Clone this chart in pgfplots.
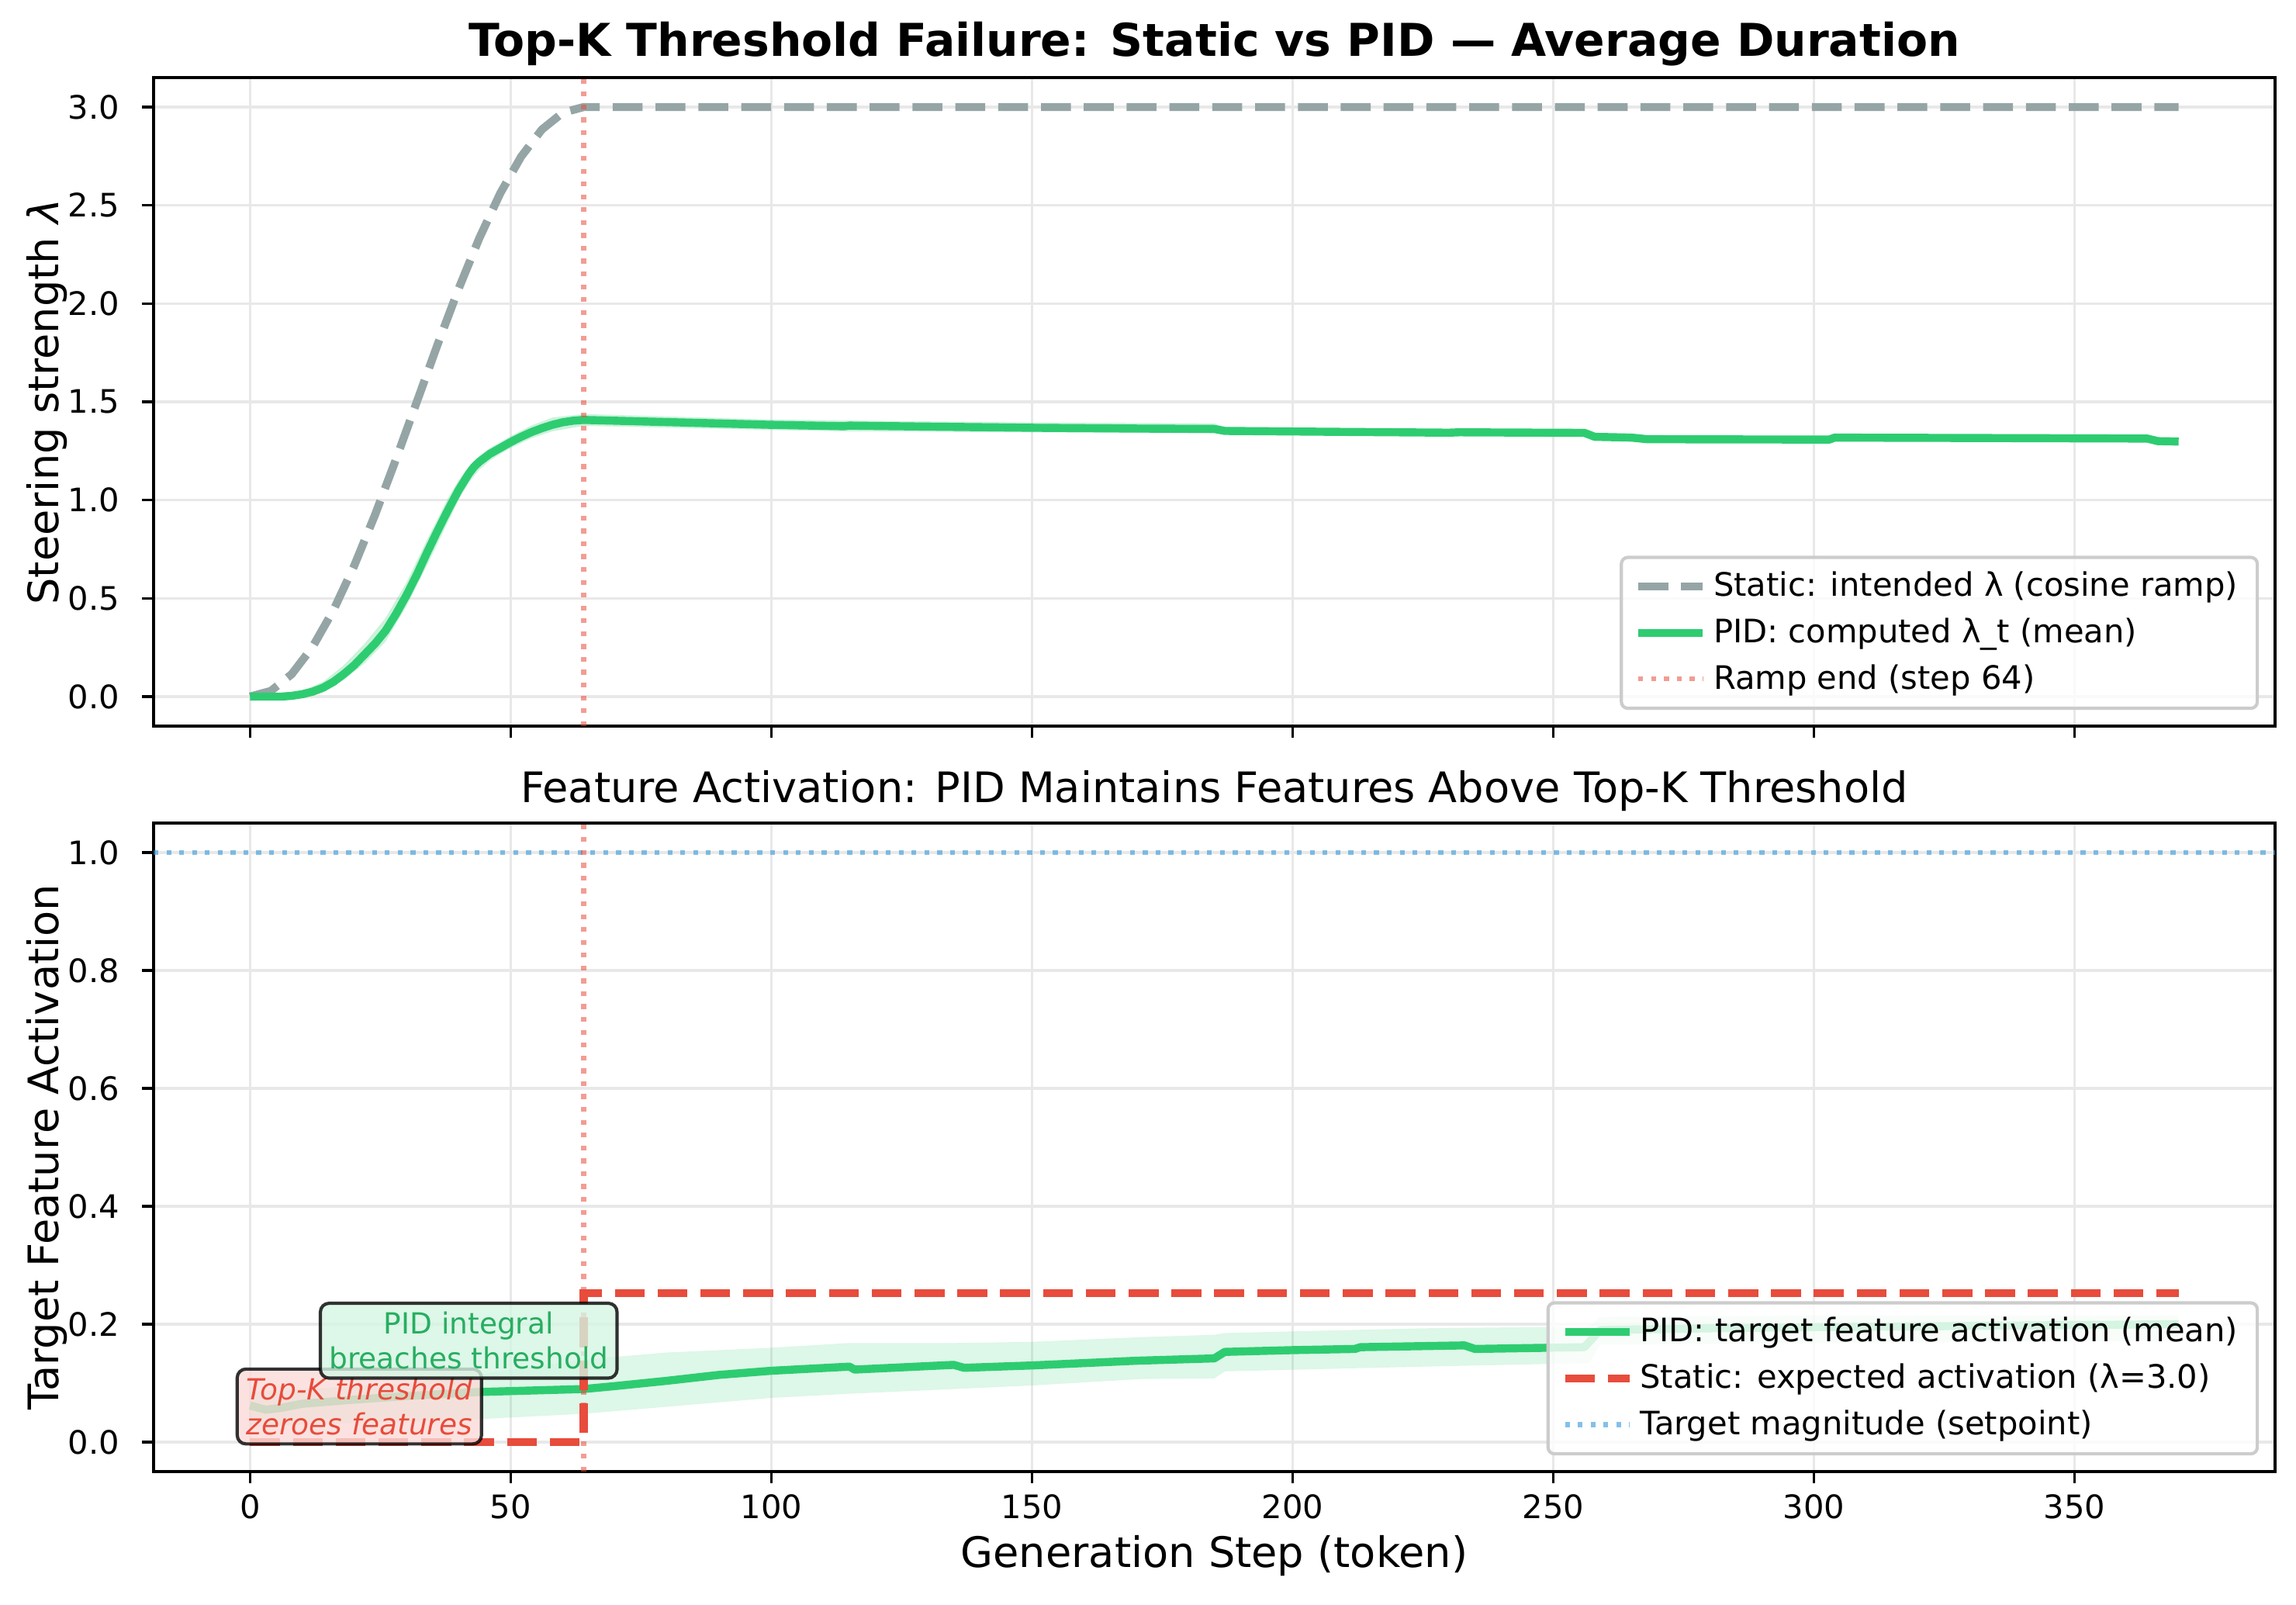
\documentclass[border=0pt]{standalone}
\usepackage{fontspec}
\setmainfont{DejaVu Sans}
\usepackage{pgfplots}
\pgfplotsset{compat=1.18}
\usepackage{pgfplotstable}

\definecolor{cgray}{HTML}{95A5A6}
\definecolor{cgreen}{HTML}{2ECC71}
\definecolor{cdkgreen}{HTML}{27AE60}
\definecolor{cred}{HTML}{E74C3C}
\definecolor{cblue}{HTML}{3498DB}
\definecolor{gridc}{HTML}{E8E8E8}
\definecolor{legc}{HTML}{CCCCCC}
\definecolor{pinkbox}{HTML}{FADBD8}
\definecolor{greenbox}{HTML}{D5F5E3}

% ---------- data ----------
\pgfplotstableread{
t lam
0 0.0000
4 0.0288
8 0.1142
12 0.2528
16 0.4393
20 0.6666
24 0.9260
28 1.2074
32 1.5000
36 1.7926
40 2.0740
44 2.3334
48 2.5607
52 2.7472
56 2.8858
60 2.9712
64 3.0000
370 3.0000
}\staticlam

\pgfplotstableread{
t lam
0 0.000
6 0.000
8 0.004
10 0.012
12 0.025
14 0.045
16 0.075
18 0.115
20 0.160
22 0.215
24 0.270
26 0.335
28 0.420
30 0.515
32 0.620
34 0.735
36 0.845
38 0.950
40 1.050
42 1.135
43 1.170
44 1.195
46 1.235
48 1.265
50 1.295
52 1.322
54 1.346
56 1.366
58 1.383
60 1.396
62 1.404
64 1.408
80 1.397
100 1.383
114 1.376
115 1.379
130 1.374
150 1.368
170 1.364
185 1.362
187 1.352
210 1.347
230 1.343
232 1.345
256 1.342
258 1.322
265 1.318
268 1.310
280 1.309
303 1.308
304 1.318
330 1.316
364 1.313
366 1.300
370 1.298
}\pidlam

\pgfplotstableread{
t act
0 0.062
3 0.055
6 0.058
10 0.065
20 0.072
30 0.078
44 0.085
64 0.090
70 0.095
80 0.104
90 0.114
100 0.121
115 0.128
116 0.123
135 0.131
137 0.126
150 0.130
170 0.138
185 0.142
187 0.153
200 0.156
212 0.158
213 0.161
233 0.164
235 0.158
256 0.161
259 0.190
280 0.193
300 0.195
330 0.197
370 0.200
}\pidact

\pgfplotsset{
  mpl/.style={
    scale only axis,
    width=656.4pt, height=200.64pt,
    xmin=-18.5, xmax=388.5,
    axis line style={line width=0.8pt},
    tick align=outside,
    xtick pos=left, ytick pos=left,
    major tick length=3.5pt,
    every tick/.style={line width=0.8pt, black},
    grid=major,
    major grid style={gridc, line width=0.8pt},
    xtick={0,50,...,350},
    tick label style={font=\fontsize{10}{12}\selectfont},
    /pgf/number format/assume math mode=true,
    yticklabel style={/pgf/number format/fixed, /pgf/number format/fixed zerofill, /pgf/number format/precision=1, xshift=-3.5pt},
    legend cell align=left,
    legend image code/.code={\draw[##1] (0pt,0pt) -- (20pt,0pt);},
    legend style={
      at={(1,0)}, anchor=south east, xshift=-5pt, yshift=5pt,
      draw=legc, line width=1pt, rounded corners=2pt,
      fill=white, fill opacity=0.8, draw opacity=1, text opacity=1,
      font=\fontsize{10}{12}\selectfont,
      inner xsep=4pt, inner ysep=3pt, row sep=2.2pt,
      nodes={inner ysep=1.5pt},
    },
    every axis y label/.style={at={(axis description cs:-0.0504,0.5)}, rotate=90, anchor=center, font=\fontsize{13}{15.6}\selectfont},
  },
  mdash/.style={dash pattern=on 9.25pt off 4pt, line cap=butt},
  mdot/.style={dash pattern=on 1.5pt off 2.475pt, line cap=butt},
}

\begin{document}
\begin{tikzpicture}
\path (0,0) rectangle (710.4pt,496.32pt);

% ---------------- top axis ----------------
\begin{axis}[mpl,
  at={(47.52pt,271.68pt)}, anchor=south west,
  ymin=-0.15, ymax=3.15,
  ytick={0,0.5,...,3.0},
  xticklabels={},
  ylabel={Steering strength {\itshape λ}},
  title={Top-K Threshold Failure: Static vs PID — Average Duration},
  every axis title/.style={at={(axis description cs:0.5,1)}, anchor=center, yshift=10.5pt, font=\fontsize{14}{16.8}\selectfont\bfseries},
]
\addplot[cgray, line width=2.5pt, mdash] table[x=t,y=lam]{\staticlam};
\addlegendentry{Static: intended λ (cosine ramp)}
\addplot[fill=cgreen, fill opacity=0.25, draw=none, forget plot] coordinates {
(0,0) (6,0.005) (10,0.03) (14,0.075) (18,0.16) (22,0.27) (26,0.40) (30,0.58) (34,0.80) (38,1.01) (40,1.10) (42,1.17) (44,1.225) (46,1.265) (48,1.295) (50,1.325) (54,1.38) (58,1.42) (64,1.438) (100,1.41) (114,1.405) (150,1.395) (185,1.39) (187,1.37) (230,1.36) (257,1.355) (258,1.322)
(257,1.33) (230,1.33) (187,1.335) (185,1.34) (150,1.345) (114,1.35) (100,1.357) (64,1.378) (58,1.35) (54,1.315) (50,1.265) (48,1.235) (46,1.20) (44,1.155) (42,1.09) (40,1.00) (38,0.89) (34,0.67) (30,0.46) (26,0.28) (22,0.17) (18,0.085) (14,0.025) (10,0) (6,0) (0,0)
};
\addplot[cgreen, line width=2.5pt, line join=round] table[x=t,y=lam]{\pidlam};
\addlegendentry{PID: computed λ\_t (mean)}
\addplot[cred, opacity=0.55, line width=1.5pt, mdot] coordinates {(64,-0.15) (64,3.15)};
\addlegendentry{Ramp end (step 64)}
\end{axis}

% ---------------- bottom axis ----------------
\begin{axis}[mpl,
  at={(47.52pt,41.04pt)}, anchor=south west,
  ymin=-0.05, ymax=1.05,
  ytick={0,0.2,...,1.0},
  ylabel={Target Feature Activation},
  xlabel={Generation Step (token)},
  every axis x label/.style={at={(axis description cs:0.5,0)}, anchor=center, yshift=-26pt, font=\fontsize{13}{15.6}\selectfont},
  title={Feature Activation: PID Maintains Features Above Top-K Threshold},
  every axis title/.style={at={(axis description cs:0.5,1)}, anchor=center, yshift=10pt, font=\fontsize{13}{15.6}\selectfont},
]
\addplot[fill=cgreen, fill opacity=0.16, draw=none, forget plot] coordinates {
(0,0.085) (10,0.09) (20,0.095) (30,0.1) (44,0.115) (64,0.14) (80,0.152) (100,0.16) (115,0.168) (135,0.168) (150,0.17) (171,0.178) (185,0.182) (187,0.185) (225,0.193) (257,0.196) (259,0.212) (300,0.215) (370,0.215)
(370,0.172) (300,0.168) (259,0.165) (257,0.134) (225,0.128) (187,0.12) (185,0.108) (171,0.107) (150,0.096) (135,0.09) (115,0.082) (100,0.075) (80,0.06) (64,0.048) (44,0.039) (30,0.035) (20,0.032) (10,0.03) (0,0.025)
};
\addplot[cgreen, line width=2.5pt, line join=round] table[x=t,y=act]{\pidact};
\addlegendentry{PID: target feature activation (mean)}
\addplot[cred, line width=2.5pt, mdash] coordinates {(0,0) (64,0) (64,0.253) (370,0.253)};
\addlegendentry{Static: expected activation (λ=3.0)}
\addplot[cblue, opacity=0.6, line width=1.5pt, mdot] coordinates {(-18.5,1.0) (388.5,1.0)};
\addlegendentry{Target magnitude (setpoint)}
\addplot[cred, opacity=0.55, line width=1.5pt, mdot, forget plot] coordinates {(64,-0.05) (64,1.05)};

\node[font=\fontsize{9}{10.8}\selectfont\itshape, text=cred, align=center,
  draw=black, draw opacity=0.8, fill=pinkbox, fill opacity=0.8, text opacity=1,
  line width=1pt, rounded corners=2.7pt, inner sep=2.7pt]
  at (axis cs:20.98,0.0604) {Top-K threshold\\zeroes features};
\node[font=\fontsize{9}{10.8}\selectfont, text=cdkgreen, align=center,
  draw=black, draw opacity=0.8, fill=greenbox, fill opacity=0.8, text opacity=1,
  line width=1pt, rounded corners=2.7pt, inner sep=2.7pt]
  at (axis cs:41.96,0.172) {PID integral\\breaches threshold};
\end{axis}
\end{tikzpicture}
\end{document}
